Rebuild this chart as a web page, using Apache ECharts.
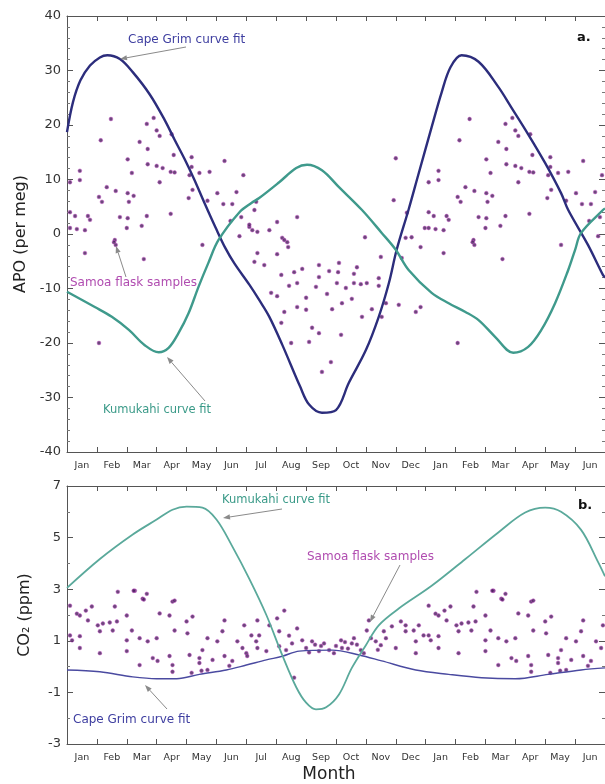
<!DOCTYPE html>
<html>
<head>
<meta charset="utf-8">
<script src="https://cdn.jsdelivr.net/npm/echarts@6/dist/echarts.min.js"></script>
<style>html,body{margin:0;padding:0;background:#fff}#c{width:605px;height:784px}</style>
</head>
<body>
<div id="c"></div>
<script>
// ---------- data (month index: 0 = start of Jan, 18 = end of Jun of 2nd year) ----------
const monthLabels = ['Jan','Feb','Mar','Apr','May','Jun','Jul','Aug','Sep','Oct','Nov','Dec','Jan','Feb','Mar','Apr','May','Jun'];
const apoTicks = [-40,-30,-20,-10,0,10,20,30,40];
const co2Ticks = [-3,-1,1,3,5,7];

// Panel a: APO (per meg)
const capeGrimAPO = [[0,18.7],[0.2,24.2],[0.45,28.2],[0.77,30.9],[1.1,32.4],[1.35,32.8],[1.77,32.1],[2.2,29.7],[2.77,25.6],[3.27,20.9],[3.6,17.3],[3.93,13.8],[4.25,10.1],[4.6,5.7],[4.97,1.2],[5.3,-2.6],[5.6,-5.4],[6.1,-9.3],[6.43,-12.1],[6.77,-15.2],[7.2,-20.3],[7.8,-28.0],[8.1,-31.3],[8.53,-32.8],[9.0,-32.3],[9.43,-27.3],[10.0,-21.3],[10.43,-15.2],[10.77,-9.0],[11.03,-2.9],[11.43,4.5],[11.77,11.2],[12.2,19.6],[12.53,25.9],[12.83,30.6],[13.2,32.8],[13.77,31.6],[14.43,27.0],[14.87,23.2],[15.43,18.3],[16.0,13.0],[16.53,7.5],[16.77,4.4],[17.43,-2.0],[17.93,-7.5],[18,-8.0]];
const kumukahiAPO = [[0,-10.6],[0.93,-13.4],[1.5,-15.2],[2.07,-17.6],[2.6,-20.4],[3.07,-21.7],[3.4,-20.9],[3.73,-18.2],[4.07,-14.5],[4.4,-9.7],[4.73,-5.3],[5.07,-1.1],[5.77,4.0],[6.17,5.7],[6.43,6.6],[7.1,9.5],[7.67,12.1],[8.03,12.7],[8.53,11.7],[9.1,8.6],[9.87,4.4],[10.53,0.2],[11.0,-2.9],[11.43,-6.6],[12.2,-10.8],[12.77,-12.7],[13.33,-14.3],[13.77,-15.8],[14.33,-18.9],[14.93,-21.8],[15.43,-20.7],[15.87,-17.6],[16.33,-12.7],[16.77,-6.6],[17.0,-2.9],[17.2,0.2],[17.93,4.4],[18,4.7]];
const samoaAPO = [[1.47,21.1],[1.13,17.2],[2.9,21.3],[2.67,20.2],[3.0,19],[3.1,18],[3.5,18.3],[2.43,16.9],[2.7,15.6],[3.57,14.5],[4.17,14.1],[5.27,13.4],[2.03,13.7],[2.7,12.8],[3.0,12.5],[3.2,12.1],[3.47,11.4],[3.6,11.3],[4.17,12.3],[4.1,10.8],[4.43,11.2],[4.77,11.4],[5.9,10.8],[2.17,11.2],[3.1,9.5],[0.1,9.5],[0.43,9.9],[0.43,11.6],[1.33,8.6],[1.63,7.9],[2.03,7.5],[2.23,7.0],[1.07,6.8],[1.17,5.9],[2.07,5.9],[4.07,6.6],[4.2,8.1],[4.7,6.1],[5.03,7.5],[5.23,5.5],[5.53,5.5],[5.67,7.7],[3.47,3.7],[2.03,2.9],[1.77,3.1],[2.67,3.3],[2.5,1.5],[2.0,1.1],[0.1,4.0],[0.27,3.3],[0.7,3.3],[0.77,2.6],[0.1,1.1],[0.33,0.9],[0.6,0.7],[4.53,-2.0],[5.77,-0.4],[6.1,1.3],[5.47,2.4],[6.2,0.7],[6.77,0.7],[7.03,2.2],[7.2,-0.7],[7.37,-1.5],[7.7,3.1],[1.6,-1.1],[1.63,-2.0],[0.6,-3.5],[1.57,-1.5],[2.57,-4.6],[1.07,-20],[11,13.9],[10.93,6.2],[6.33,5.9],[6.27,4.4],[5.83,3.1],[6.1,1.7],[6.37,0.4],[7.27,-1.1],[7.4,-2.4],[9.97,-0.6],[6.37,-3.5],[7.03,-3.7],[6.27,-5.1],[6.6,-5.7],[10.5,-4.2],[11.2,-4.4],[11.33,-0.7],[11.53,-0.6],[11.83,-2.4],[11.97,1.1],[11.37,3.9],[8.43,-5.7],[9.1,-5.3],[7.87,-6.4],[7.6,-7.0],[8.77,-6.8],[9.07,-7.0],[9.7,-6.1],[7.17,-7.5],[8.43,-7.9],[9.6,-7.3],[10.43,-8.1],[7.7,-9.0],[7.43,-9.5],[8.33,-9.7],[9.03,-9.0],[9.33,-9.9],[9.6,-9.0],[9.83,-9.2],[10.03,-9.0],[10.43,-9.5],[8.7,-11.0],[6.83,-10.8],[7.03,-11.4],[8.0,-11.7],[9.53,-11.9],[9.2,-12.7],[7.7,-13.4],[8.0,-13.9],[7.27,-14.3],[8.87,-13.8],[10.2,-13.8],[10.67,-12.7],[11.1,-13.0],[11.67,-14.3],[11.83,-13.4],[9.87,-15.2],[10.53,-15.2],[7.17,-16.3],[8.2,-17.2],[8.43,-18.2],[9.17,-18.5],[7.5,-20],[8.1,-19.8],[8.83,-23.5],[8.53,-25.3]];

// Panel b: CO2 (ppm)
const capeGrimCO2 = [[0,-0.13],[1.1,-0.2],[2.2,-0.4],[3.0,-0.47],[3.67,-0.47],[4.43,-0.3],[5.33,-0.13],[6.0,0.06],[6.67,0.26],[7.2,0.4],[7.77,0.6],[8.87,0.64],[9.77,0.45],[10.53,0.22],[11.67,-0.13],[12.77,-0.3],[13.87,-0.43],[15.0,-0.47],[16.1,-0.3],[17.2,-0.13],[18,-0.05]];
const kumukahiCO2 = [[0,3.05],[1.1,4.17],[2.2,5.12],[3.0,5.7],[3.53,6.08],[4.0,6.2],[4.53,6.16],[5.0,5.7],[5.53,4.66],[6.1,3.4],[6.67,2.0],[7.2,0.45],[7.67,-0.8],[8.0,-1.4],[8.33,-1.66],[8.67,-1.58],[9.1,-1.08],[9.53,-0.05],[10.0,0.83],[10.43,1.6],[11.1,2.25],[12.2,3.13],[13.33,4.17],[14.43,5.2],[15.33,5.97],[16.0,6.16],[16.53,6.0],[17.2,5.3],[17.77,4.05],[18,3.5]];
const samoaCO2 = [[0.1,2.36],[0.43,1.98],[0.33,2.05],[0.63,2.17],[0.83,2.33],[0.7,1.79],[1.03,1.6],[1.2,1.67],[1.43,1.71],[1.67,1.75],[1.6,2.33],[1.7,2.9],[1.53,1.4],[1.1,1.37],[0.1,1.21],[0.43,1.18],[0.17,1.02],[0.43,0.72],[1.1,0.52],[2.0,1.98],[2.17,1.4],[2.27,2.94],[2.53,2.63],[2.67,2.82],[2.0,1.02],[2.0,0.6],[2.43,1.1],[2.7,0.98],[3.0,1.1],[3.1,2.06],[3.43,1.98],[3.53,2.52],[3.6,1.4],[2.43,0.06],[2.87,0.33],[3.03,0.22],[3.43,0.41],[3.53,0.06],[3.53,-0.2],[4.0,1.75],[4.2,1.94],[4.03,1.29],[4.1,0.45],[4.43,0.33],[4.53,0.64],[4.17,-0.24],[4.5,-0.16],[4.7,-0.13],[4.43,0.14],[4.7,1.1],[4.87,0.26],[5.03,0.98],[5.27,1.79],[5.2,1.37],[5.27,0.41],[5.53,0.22],[5.43,0.03],[5.7,0.98],[5.93,1.6],[6.17,1.21],[5.87,0.72],[6.0,0.52],[6.03,0.41],[6.37,1.79],[6.43,1.21],[6.33,0.98],[6.37,0.72],[6.67,0.6],[6.77,1.6],[7.1,1.37],[7.03,1.87],[7.27,2.17],[7.1,0.79],[7.33,0.64],[7.53,0.9],[7.6,-0.43],[7.7,1.48],[7.43,1.2],[7.87,1.02],[8.0,0.72],[8.2,0.98],[8.43,0.6],[8.6,0.9],[8.77,0.64],[8.93,0.52],[9.17,1.02],[9.2,0.72],[9.53,0.9],[9.6,1.1],[9.83,0.64],[9.93,0.52],[10.03,1.4],[10.1,1.79],[10.17,1.1],[10.33,0.98],[10.5,0.83],[10.67,1.1],[10.6,1.37],[11.0,0.72],[10.87,1.56],[11.17,1.75],[11.33,1.6],[11.33,1.37],[11.6,1.4],[11.77,1.6],[11.67,0.98],[11.67,0.52],[11.93,1.21],[2.23,2.94],[2.57,2.6],[3.6,2.56],[8.3,0.85],[8.5,0.8],[9.0,0.8],[9.4,0.7],[9.7,0.85],[10.4,0.65],[8.1,0.55],[9.3,0.95]];

// the flask samples are plotted for one year and repeated for the following Jan-Jun
function repeatFirstHalf(pts){ return pts.concat(pts.filter(p=>p[0]<6).map(p=>[p[0]+12,p[1]])); }

// ---------- styles ----------
const FONT = 'DejaVu Sans';
const NAVY = '#2c2d7c', TEAL = '#3f9a8c', TEAL2 = '#5aa99b', NAVY2 = '#4a4aa0';
const AXIS = '#555';
const dotStyle = {color:'#461a5a', borderColor:'rgba(205,90,205,0.6)', borderWidth:1};

function xAxes(gi, showName){
  return [
    {gridIndex:gi, type:'value', min:0, max:18, interval:1, position:'bottom',
     axisLine:{onZero:false, lineStyle:{color:AXIS}}, axisTick:{inside:true,length:5,lineStyle:{color:AXIS}},
     axisLabel:{show:false}, splitLine:{show:false}},
    {gridIndex:gi, type:'category', data:monthLabels, position:'bottom', boundaryGap:true,
     axisLine:{show:false, onZero:false}, axisTick:{show:false},
     axisLabel:{fontFamily:FONT, fontSize:9.5, color:'#333', margin:9, interval:0},
     name: showName?'Month':'', nameLocation:'middle', nameGap:22,
     nameTextStyle:{fontFamily:FONT, fontSize:17, color:'#222', padding:[0,14,0,0]}},
    {gridIndex:gi, type:'value', min:0, max:18, interval:1, position:'top',
     axisLine:{onZero:false, lineStyle:{color:AXIS}}, axisTick:{inside:true,length:5,lineStyle:{color:AXIS}},
     axisLabel:{show:false}, splitLine:{show:false}}
  ];
}
function yAxes(gi, min, max, interval, minorSplit, name, gap, ticks){
  return [
    {gridIndex:gi, type:'value', min:min, max:max, interval:interval, position:'left',
     axisLine:{show:true,onZero:false,lineStyle:{color:AXIS}}, axisTick:{inside:true,length:6,lineStyle:{color:AXIS}},
     minorTick:{show:true,splitNumber:minorSplit,length:3,lineStyle:{color:'#777'}},
     axisLabel:{fontFamily:FONT, fontSize:13, color:'#333', margin:6,
       formatter:v=>ticks.indexOf(v)>=0?String(v):''},
     splitLine:{show:false}, minorSplitLine:{show:false},
     name:name, nameLocation:'middle', nameGap:gap, nameRotate:90,
     nameTextStyle:{fontFamily:FONT, fontSize:16, color:'#222'}},
    {gridIndex:gi, type:'value', min:min, max:max, interval:interval, position:'right',
     axisLine:{show:true,onZero:false,lineStyle:{color:AXIS}}, axisTick:{inside:true,length:6,lineStyle:{color:AXIS}},
     minorTick:{show:true,splitNumber:minorSplit,length:3,lineStyle:{color:'#777'}},
     axisLabel:{show:false}, splitLine:{show:false}}
  ];
}

// ---------- annotations ----------
function arrow(x1,y1,x2,y2){
  const a=Math.atan2(y2-y1,x2-x1), L=7, W=2.6;
  const bx=x2-L*Math.cos(a), by=y2-L*Math.sin(a);
  const px=-Math.sin(a)*W, py=Math.cos(a)*W;
  return [
    {type:'line', shape:{x1:x1,y1:y1,x2:bx,y2:by}, style:{stroke:'#8a8a8a', lineWidth:1}, z:50},
    {type:'polygon', shape:{points:[[x2,y2],[bx+px,by+py],[bx-px,by-py]]}, style:{fill:'#8a8a8a'}, z:50}
  ];
}
function label(text,x,y,color,size,bold){
  return {type:'text', x:x, y:y, style:{text:text, fill:color, font:(bold?'bold ':'')+size+'px '+FONT, textVerticalAlign:'middle', textAlign:'left'}, z:60};
}
const CG_TXT='#3e3ea0', SA_TXT='#b04cb0', KU_TXT='#3a9a88';
const graphics = [].concat(
  label('Cape Grim curve fit',128,40,CG_TXT,12), arrow(186,47,120,59),
  label('Samoa flask samples',70,283,SA_TXT,12), arrow(126,277,116,246),
  label('Kumukahi curve fit',103,410,KU_TXT,11.5), arrow(205,401,167,357),
  label('a.',577,38,'#111',13,true),
  label('Kumukahi curve fit',222,500,KU_TXT,11.5), arrow(282,509,223,518),
  label('Samoa flask samples',307,557,SA_TXT,12), arrow(400,565,370,622),
  label('Cape Grim curve fit',73,720,CG_TXT,12), arrow(167,709,145,685),
  label('b.',578,506,'#111',13,true)
);

const chart = echarts.init(document.getElementById('c'), null, {renderer:'canvas'});
chart.setOption({
  backgroundColor:'#fff',
  animation:false,
  grid:[
    {left:67, top:16, width:540, height:436},
    {left:67, top:486, width:540, height:261}
  ],
  xAxis: xAxes(0,false).concat(xAxes(1,true)),
  yAxis: yAxes(0,-40,40,10,5,'APO (per meg)',36,apoTicks).concat(yAxes(1,-3,7,2,2,'CO₂ (ppm)',34,co2Ticks)),
  series:[
    {type:'scatter', xAxisIndex:0, yAxisIndex:0, data:repeatFirstHalf(samoaAPO), symbol:'circle', symbolSize:3.8, itemStyle:dotStyle, z:2},
    {type:'line', xAxisIndex:0, yAxisIndex:0, data:capeGrimAPO, smooth:0.35, showSymbol:false, lineStyle:{color:NAVY,width:2.4}, z:3},
    {type:'line', xAxisIndex:0, yAxisIndex:0, data:kumukahiAPO, smooth:0.35, showSymbol:false, lineStyle:{color:TEAL,width:2.4}, z:3},
    {type:'scatter', xAxisIndex:3, yAxisIndex:2, data:repeatFirstHalf(samoaCO2), symbol:'circle', symbolSize:3.8, itemStyle:dotStyle, z:2},
    {type:'line', xAxisIndex:3, yAxisIndex:2, data:capeGrimCO2, smooth:0.35, showSymbol:false, lineStyle:{color:NAVY2,width:1.4}, z:3},
    {type:'line', xAxisIndex:3, yAxisIndex:2, data:kumukahiCO2, smooth:0.35, showSymbol:false, lineStyle:{color:TEAL2,width:1.8}, z:3}
  ],
  graphic: graphics
});
</script>
</body>
</html>
